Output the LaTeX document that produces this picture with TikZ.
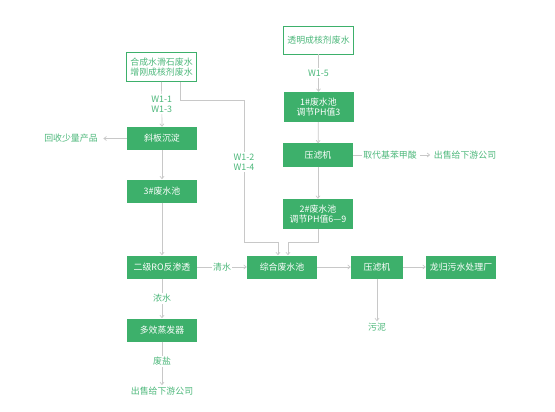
\documentclass[tikz,border=0pt]{standalone}
\usepackage{fontspec}
\setmainfont{Noto Sans CJK SC}
\usepackage{tikz}
\usetikzlibrary{arrows.meta,positioning,calc}
\definecolor{boxgreen}{HTML}{3DB06B}
\definecolor{txtgreen}{HTML}{4DB87B}
\definecolor{linegray}{HTML}{C8C8C8}

\begin{document}
\begin{tikzpicture}[x=1pt,y=-1pt,
  every node/.style={font=\fontsize{8.9}{10.5}\selectfont},
  pbox/.style={fill=boxgreen,text=white,minimum width=70pt,minimum height=23pt,align=center,inner sep=1pt},
  tallbox/.style={pbox,minimum height=30pt},
  obox/.style={draw=boxgreen,line width=0.8pt,fill=white,text=txtgreen,minimum width=70pt,minimum height=29pt,align=center,inner sep=1pt},
  lbl/.style={text=txtgreen,fill=white,inner sep=1.5pt,align=center},
  arr/.style={-{Straight Barb[length=2.5pt,width=4pt]},draw=linegray,line width=0.7pt},
  ln/.style={draw=linegray,line width=0.7pt}
]
\useasboundingbox (0,0) rectangle (555,412);
% sources
\node[obox] (mixsrc) at (161.5,67) {合成水滑石废水\\增刚成核剂废水};
\node[obox,minimum height=28pt] (clearsrc) at (318.5,40) {透明成核剂废水};
% left branch
\node[pbox] (settle) at (162,138.5) {斜板沉淀};
\node[lbl] (recover) at (71,138.5) {回收少量产品};
\node[pbox] (tank3) at (162,191) {3\#废水池};
\node[pbox] (ro) at (162,267) {二级RO反渗透};
\node[pbox] (evap) at (162,330) {多效蒸发器};
\node[lbl] (salesalt) at (162,391) {出售给下游公司};
% right branch
\node[tallbox] (tank1) at (318.5,107) {1\#废水池\\调节PH值3};
\node[pbox] (pressA) at (318,155) {压滤机};
\node[lbl] (acid) at (390,155) {取代基苯甲酸};
\node[lbl] (saleacid) at (465,155) {出售给下游公司};
\node[tallbox] (tank2) at (318,214) {2\#废水池\\调节PH值6—9};
% bottom row
\node[pbox] (pool) at (282,267) {综合废水池};
\node[pbox,minimum width=52pt] (pressB) at (377,267) {压滤机};
\node[pbox] (plant) at (461,267) {龙归污水处理厂};
\node[lbl] (sludge) at (377,327) {污泥};
\coordinate (bend) at (244,100);
\coordinate (join) at (244,242);

\draw[arr] (mixsrc.south) -- node[lbl]{W1-1\\W1-3} (settle.north);
\draw[arr] ([xshift=19pt]mixsrc.south) |- (bend) -- node[lbl,pos=0.44]{W1-2\\W1-4} (join)
  -| ([xshift=-4pt]pool.north);
\draw[arr,shorten >=4pt] (settle.west) -- (recover.east);
\draw[arr] (settle) -- (tank3);
\draw[arr] (tank3) -- (ro);
\draw[arr] (ro) -- node[lbl]{浓水} (evap);
\draw[arr] (evap) -- node[lbl,pos=0.45]{废盐} (salesalt);
\draw[arr] (clearsrc) -- node[lbl]{W1-5} (tank1);
\draw[arr] (tank1) -- (pressA);
\draw[ln] (pressA.east) -- (acid.west);
\draw[arr,shorten <=2pt,shorten >=2pt] (acid.east) -- (saleacid.west);
\draw[arr] (pressA) -- (tank2);
\draw[arr] (tank2.south) |- ($(join)+(74pt,0)$) -| ([xshift=6pt]pool.north);
\draw[arr] (ro) -- node[lbl]{清水} (pool);
\draw[arr] (pool) -- (pressB);
\draw[arr] (pressB) -- (plant);
\draw[arr] (pressB) -- (sludge);
\end{tikzpicture}
\end{document}
